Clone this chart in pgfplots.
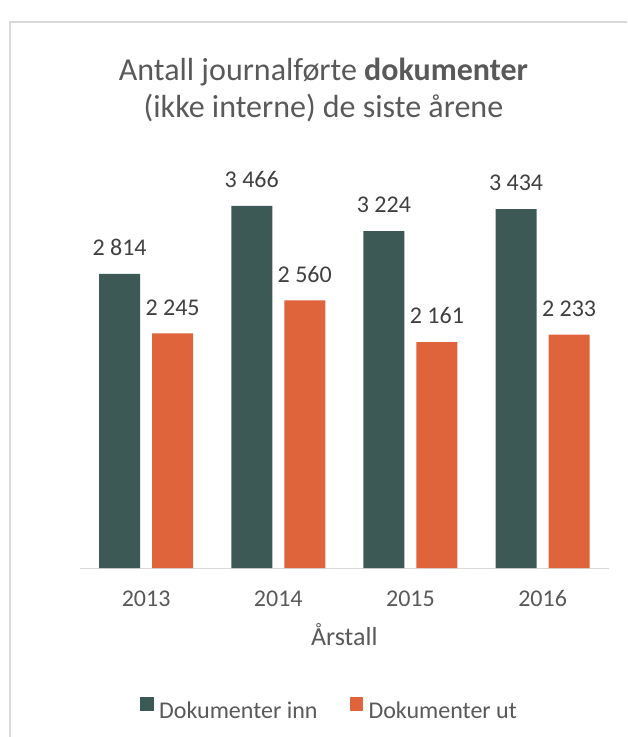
\documentclass[border=0pt]{standalone}
\usepackage{pgfplots}
\pgfplotsset{compat=1.18}
\usepackage{fontspec}
\setmainfont{Carlito}
\definecolor{inn}{HTML}{3D5956}
\definecolor{ut}{HTML}{DF633B}
\definecolor{txt}{HTML}{595959}
\definecolor{lab}{HTML}{404040}
\definecolor{gridc}{HTML}{D9D9D9}
\newcommand{\lf}{\fontsize{18}{21.6}\selectfont}
\newcommand{\af}{\fontsize{19.5}{23.4}\selectfont}
\begin{document}
\begin{tikzpicture}
\path[use as bounding box] (-60pt,-126.75pt) rectangle (410.25pt,426pt);
\draw[gridc, line width=1pt] (-52.5pt,-126.75pt) -- (-52.5pt,409.5pt) -- (410.25pt,409.5pt);
\begin{axis}[
  at={(0pt,0pt)}, anchor=south west,
  scale only axis, width=396.5pt, height=313.5pt,
  ybar=9pt, bar width=30.75pt,
  xmin=-0.5, xmax=3.5, ymin=0, ymax=4000,
  xtick=data, xticklabels={2013,2014,2015,2016},
  ytick=\empty,
  axis x line=bottom, axis y line=none,
  x axis line style={-, draw=gridc, line width=0.75pt},
  major tick length=0pt,
  xticklabel style={anchor=base, yshift=-29pt, font=\lf, text=txt},
  xlabel={Årstall},
  every axis x label/.style={at={(axis description cs:0.5,-0.1866)}, anchor=base, font=\af, text=txt},
  ylabel={Antall},
  every axis y label/.style={at={(axis description cs:-0.01892,0.5)}, rotate=90, anchor=base, font=\af, text=txt},
  title={Antall journalførte \textbf{dokumenter}\\(ikke interne) de siste årene},
  every axis title/.style={at={(axis description cs:0.4605,1.0789)}, anchor=base, align=center, font=\fontsize{24}{27.75}\selectfont, text=txt},
  /pgf/number format/.cd, fixed, precision=0, 1000 sep={\ }, assume math mode=true, /pgfplots/.cd,
  nodes near coords,
  nodes near coords style={anchor=base, yshift=13.7pt, font=\lf, text=lab},
  legend columns=2,
  legend style={at={(axis description cs:0.470,-0.3373)}, anchor=center, draw=none, font=\lf, text=txt,
    nodes={inner sep=0pt},
    /tikz/every odd column/.append style={column sep=4pt},
    /tikz/every even column/.append style={column sep=24pt}},
  legend image code/.code={\fill[#1] (0pt,0pt) rectangle (10.3pt,10.3pt);},
]
\addplot[fill=inn, draw=none] coordinates {(0,2814) (1,3466) (2,3224) (3,3434)};
\addplot[fill=ut, draw=none] coordinates {(0,2245) (1,2560) (2,2161) (3,2233)};
\legend{Dokumenter inn, Dokumenter ut}
\end{axis}
\end{tikzpicture}
\end{document}
